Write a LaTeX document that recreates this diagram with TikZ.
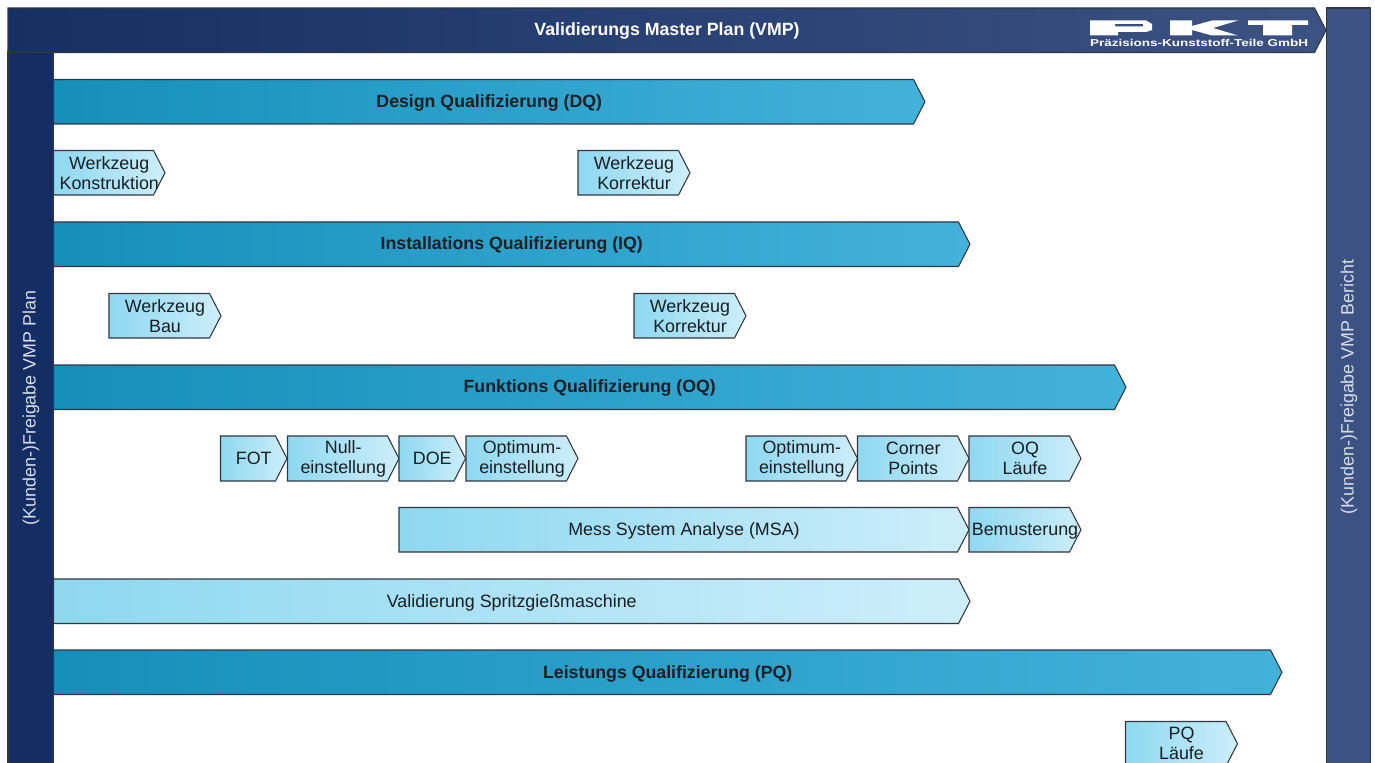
\documentclass[tikz,border=0pt]{standalone}
\usepackage{fontspec}
\setmainfont{Liberation Sans}
\definecolor{navyL}{RGB}{22,48,100}
\definecolor{navyR}{RGB}{60,82,130}
\definecolor{navyS}{RGB}{20,45,98}
\definecolor{tealL}{RGB}{21,143,186}
\definecolor{tealR}{RGB}{67,178,218}
\definecolor{skyL}{RGB}{142,216,240}
\definecolor{skyR}{RGB}{205,238,250}
\definecolor{edgeC}{RGB}{50,55,65}
\definecolor{inkC}{RGB}{25,30,35}
\definecolor{paleT}{RGB}{215,222,235}
\tikzset{
  x=0.75pt,y=-0.75pt,
  every node/.style={inner sep=0pt,outer sep=0pt,font=\fontsize{13.4}{15}\selectfont,text=inkC,align=center},
  headbar/.style={draw=edgeC,line width=0.8pt,left color=navyL,right color=navyR},
  tealbar/.style={draw=edgeC,line width=0.8pt,left color=tealL,right color=tealR},
  skybar/.style={draw=edgeC,line width=0.8pt,left color=skyL,right color=skyR},
  sidebar/.style={draw=edgeC,line width=0.8pt},
  boldlabel/.style={font=\fontsize{13.3}{15}\selectfont\bfseries},
  lowered/.style={yshift=-0.9pt},
  logoink/.style={fill=white,draw=none},
}
% name, style, x1, y1, x2, y2, text style, text
\newcommand{\chevbox}[8]{%
  \pgfmathsetmacro{\sx}{#5-11.5}%
  \pgfmathsetmacro{\my}{(#4+#6)/2}%
  \pgfmathsetmacro{\cx}{(#3+#5)/2}%
  \path[#2] (#3,#4) -- (\sx,#4) -- (#5,\my) -- (\sx,#6) -- (#3,#6) -- cycle;
  \node[#7] (#1) at (\cx,\my) {#8};
}
\begin{document}
\begin{tikzpicture}
\useasboundingbox (0,0) rectangle (1375,763);
\clip (0,0) rectangle (1375,763);
\fill[white] (0,0) rectangle (1375,763);

% frame
\path[sidebar,fill=navyR] (1326.5,8) rectangle (1370.5,770);
\path[sidebar,fill=navyS] (8,52) rectangle (53.5,770);
\chevbox{vmp}{headbar}{8}{8}{1326}{52.5}{boldlabel,text=white}{}
\node[boldlabel,text=white] (vmplabel) at (667,30.5) {Validierungs Master Plan (VMP)};
\node[rotate=90,text=paleT] (plan) at (31,408) {(Kunden-)Freigabe VMP Plan};
\node[rotate=90,text=paleT] (bericht) at (1349,387) {(Kunden-)Freigabe VMP Bericht};

% logo
\fill[logoink,even odd rule] (1090,20.5) -- (1146,20.5) -- (1152,24) -- (1152,30) -- (1146,32) -- (1118,32) -- (1118,35.5) -- (1090,35.5) -- cycle
  (1115,24) -- (1115,26.5) -- (1143,26.5) -- (1143,24) -- cycle;
\fill[logoink] (1170,20.5) -- (1192,20.5) -- (1192,26) -- (1212,20.5) -- (1238,20.5) -- (1213,28) -- (1238,35.5) -- (1212,35.5) -- (1192,30) -- (1192,35.5) -- (1170,35.5) -- cycle;
\fill[logoink] (1248,20.5) -- (1308,20.5) -- (1308,25) -- (1292,25) -- (1292,35.5) -- (1263,35.5) -- (1263,25) -- (1248,25) -- cycle;
\node[text=white,font=\fontsize{7.5}{9}\selectfont\bfseries,xscale=1.35] (logotext) at (1199,43) {Präzisions-Kunststoff-Teile GmbH};

% main phases
\chevbox{dq}{tealbar}{53.5}{79.5}{925}{124}{boldlabel,lowered}{Design Qualifizierung (DQ)}
\chevbox{iq}{tealbar}{53.5}{222}{970}{266.5}{boldlabel,lowered}{Installations Qualifizierung (IQ)}
\chevbox{oq}{tealbar}{53.5}{365}{1126}{409.5}{boldlabel,lowered}{Funktions Qualifizierung (OQ)}
\chevbox{pq}{tealbar}{53.5}{650}{1282}{694.5}{boldlabel,lowered}{Leistungs Qualifizierung (PQ)}

% sub steps
\chevbox{wkon}{skybar}{53.5}{150.5}{165}{195}{}{Werkzeug\\Konstruktion}
\chevbox{wkor}{skybar}{578}{150.5}{690}{195}{}{Werkzeug\\Korrektur}
\chevbox{wbau}{skybar}{109}{293.5}{221}{338}{}{Werkzeug\\Bau}
\chevbox{wkorb}{skybar}{634}{293.5}{746}{338}{}{Werkzeug\\Korrektur}
\chevbox{fot}{skybar}{220.5}{436}{287}{481}{}{FOT}
\chevbox{null}{skybar}{287.5}{436}{399}{481}{}{Null-\\einstellung}
\chevbox{doe}{skybar}{399}{436}{465.5}{481}{}{DOE}
\chevbox{opta}{skybar}{466}{436}{578}{481}{}{Optimum-\\einstellung}
\chevbox{optb}{skybar}{746}{436}{857.5}{481}{}{Optimum-\\einstellung}
\chevbox{corner}{skybar}{857.5}{436}{969}{481}{}{Corner\\Points}
\chevbox{oql}{skybar}{969}{436}{1081}{481}{}{OQ\\Läufe}
\chevbox{msa}{skybar}{399}{507.5}{969}{552}{lowered}{Mess System Analyse (MSA)}
\chevbox{bem}{skybar}{969}{507.5}{1081}{552}{lowered}{Bemusterung}
\chevbox{vsm}{skybar}{53.5}{579}{970}{623.5}{lowered}{Validierung Spritzgießmaschine}
\chevbox{pql}{skybar}{1125.5}{721.5}{1237.5}{766}{}{PQ\\Läufe}
\end{tikzpicture}
\end{document}
